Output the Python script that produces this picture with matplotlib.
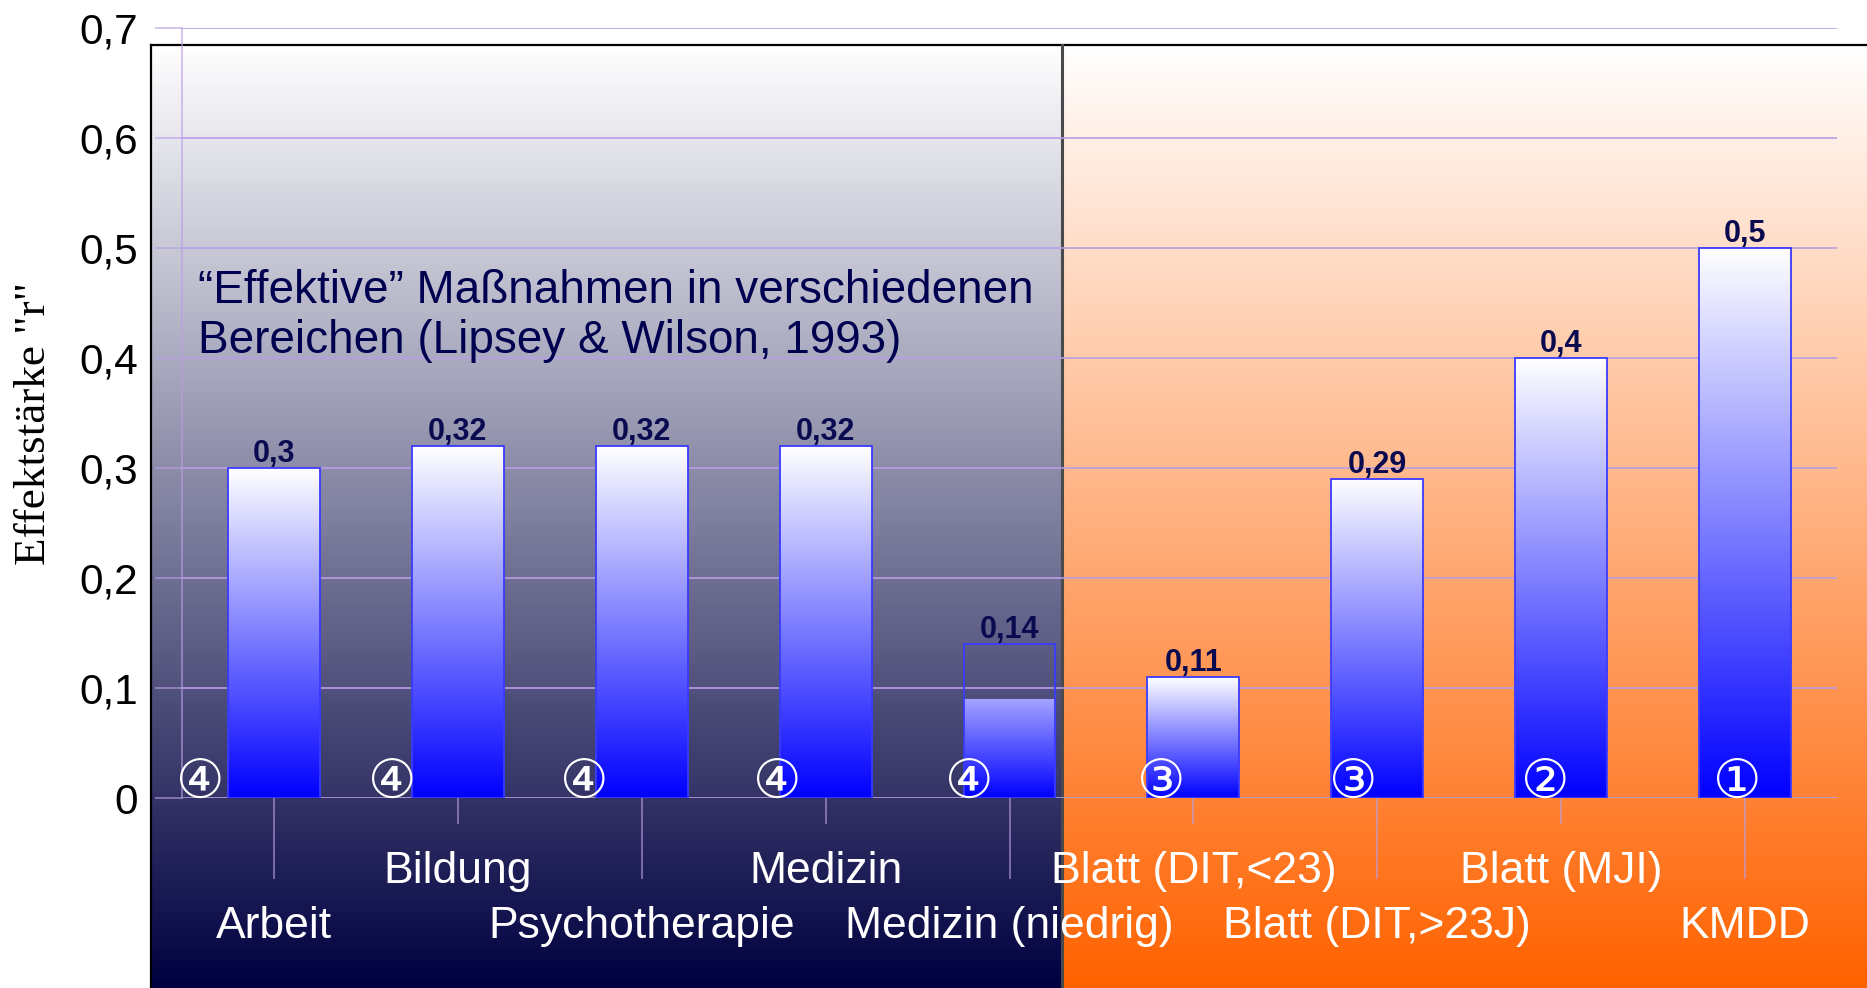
import numpy as np
import matplotlib
matplotlib.use("Agg")
import matplotlib.pyplot as plt
from matplotlib.patches import Rectangle

# ---------------- data ----------------
categories = ["Arbeit", "Bildung", "Psychotherapie", "Medizin", "Medizin (niedrig)",
              "Blatt (DIT,<23)", "Blatt (DIT,>23J)", "Blatt (MJI)", "KMDD"]
values = [0.30, 0.32, 0.32, 0.32, 0.14, 0.11, 0.29, 0.40, 0.50]
fill_levels = [0.30, 0.32, 0.32, 0.32, 0.09, 0.11, 0.29, 0.40, 0.50]
value_labels = ["0,3", "0,32", "0,32", "0,32", "0,14", "0,11", "0,29", "0,4", "0,5"]
evidence_marks = ["④", "④", "④", "④", "④", "③", "③", "②", "①"]
ytick_values = [0.0, 0.1, 0.2, 0.3, 0.4, 0.5, 0.6, 0.7]
ytick_labels = ["0", "0,1", "0,2", "0,3", "0,4", "0,5", "0,6", "0,7"]
annotation_lines = ["\u201cEffektive\u201d Maßnahmen in verschiedenen",
                    "Bereichen (Lipsey & Wilson, 1993)"]
ylabel_text = 'Effektstärke "r"'

# ---------------- figure ----------------
W, H = 1867, 988
fig = plt.figure(figsize=(W / 100, H / 100), dpi=100)
fig.patch.set_facecolor("white")


def fx(px):
    return px / W


def fy(py):
    return 1 - py / H


# background panels
bg = fig.add_axes([0, 0, 1, 1], zorder=0)
bg.set_xlim(0, W)
bg.set_ylim(H, 0)
bg.axis("off")
t = np.linspace(0, 1, 256)[:, None]


def vgrad(bottom_rgb):
    top = np.array([1.0, 1.0, 1.0])
    bot = np.array(bottom_rgb) / 255.0
    g = top * (1 - t) + bot * t
    return g[:, None, :]


top_px, left_px, split_px = 45, 151, 1062
bg.imshow(vgrad((0, 0, 64)), extent=(left_px, split_px, H, top_px), origin="upper",
          aspect="auto", interpolation="bilinear")
bg.imshow(vgrad((255, 98, 0)), extent=(split_px, W, H, top_px), origin="upper",
          aspect="auto", interpolation="bilinear")
bg.set_xlim(0, W)
bg.set_ylim(H, 0)
bg.plot([left_px, W], [top_px, top_px], color="black", lw=1.6)
bg.plot([left_px, left_px], [top_px, H], color="black", lw=1.6)
bg.plot([split_px, split_px], [top_px, H], color="#4a4a4a", lw=2.2)

# main axes
ax = fig.add_axes([fx(182), fy(798), fx(1837) - fx(182), fy(28) - fy(798)], zorder=1)
ax.patch.set_alpha(0)
gc = (0.72, 0.62, 0.90, 0.7)

x = np.arange(len(categories))
bar_w = 0.5
blue_grad = np.linspace(0, 1, 256)[:, None]
bar_img = (np.array([0, 0, 1.0]) * (1 - blue_grad) + np.array([1.0, 1, 1]) * blue_grad)[:, None, :]

bars = ax.bar(x, values, width=bar_w, fill=False, edgecolor="#3a3aff", linewidth=1.3, zorder=3)
for xi, v, f in zip(x, values, fill_levels):
    im = ax.imshow(bar_img, extent=(xi - bar_w / 2, xi + bar_w / 2, 0, v), origin="lower",
                   aspect="auto", interpolation="bilinear", zorder=2)
    clip = Rectangle((xi - bar_w / 2, 0), bar_w, f, transform=ax.transData)
    im.set_clip_path(clip)

for xi, v, lab in zip(x, values, value_labels):
    ax.annotate(lab, (xi, v), xytext=(0, 4.5), textcoords="offset points",
                ha="center", va="baseline", fontsize=22, fontweight="bold",
                color="#0a0a50", family="Liberation Sans", zorder=4)

for i, m in enumerate(evidence_marks):
    ax.text(-0.40 + 1.045 * i, 0.014, m, ha="center", va="center", color="white",
            fontsize=39, family=["DejaVu Sans", "Noto Sans CJK JP"], zorder=5)

ax.set_xlim(-0.5, 8.5)
ax.set_ylim(0, 0.7)

ax.set_yticks(ytick_values, ytick_labels)
ax.yaxis.grid(True, color=gc, lw=1.2)
ax.set_axisbelow(True)
ax.tick_params(axis="y", length=19.5, width=1.2, color=gc, pad=12, labelsize=30.5,
               labelcolor="black")
for lab in ax.get_yticklabels():
    lab.set_family("Liberation Sans")

ax.set_xticks(x[::2], [""] * len(x[::2]))
ax.set_xticks(x[1::2], [""] * len(x[1::2]), minor=True)
ax.tick_params(axis="x", which="major", length=58, width=1.2, color=gc, direction="out")
ax.tick_params(axis="x", which="minor", length=19, width=1.2, color=gc, direction="out")

for s in ["top", "right", "bottom"]:
    ax.spines[s].set_visible(False)
ax.spines["left"].set_color(gc)
ax.spines["left"].set_linewidth(1.2)

for i, c in enumerate(categories):
    ybase = -0.1273 if i % 2 == 0 else -0.0773
    ax.text(i, ybase, c, ha="center", va="baseline", color="white", fontsize=32,
            family="Liberation Sans", clip_on=False, zorder=5)

ax.text(-0.413, 0.45, annotation_lines[0], ha="left", va="baseline", fontsize=33,
        color="#000050", family="Liberation Sans", zorder=5)
ax.text(-0.413, 0.4045, annotation_lines[1], ha="left", va="baseline", fontsize=33,
        color="#000050", family="Liberation Sans", zorder=5)

fig.text(fx(34), fy(423), ylabel_text, rotation=90, ha="center", va="center",
         fontsize=32.5, family="Liberation Serif", color="black")

fig.savefig("out.png", dpi=100)
